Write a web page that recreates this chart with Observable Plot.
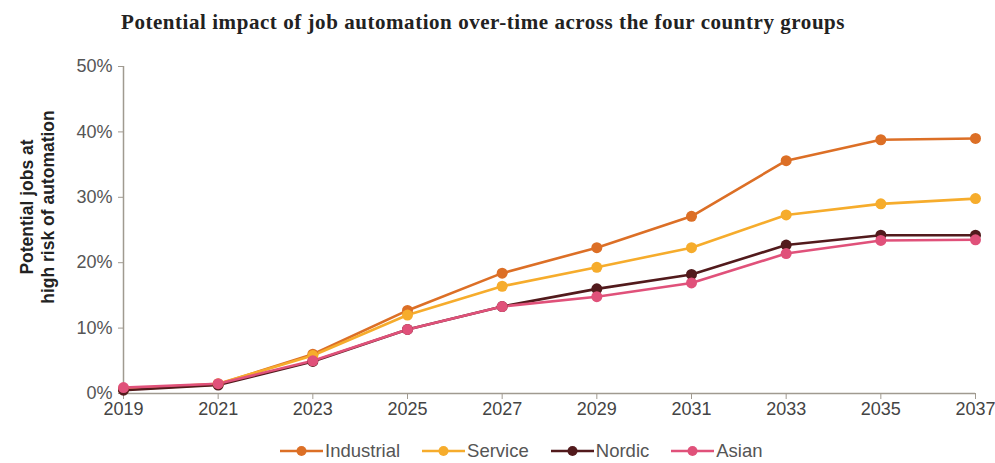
<!DOCTYPE html>
<html>
<head>
<meta charset="utf-8">
<script src="https://cdn.jsdelivr.net/npm/d3@7"></script>
<script src="https://cdn.jsdelivr.net/npm/@observablehq/plot@0.6"></script>
<style>
  body { margin: 0; background: #fff; width: 995px; height: 463px; overflow: hidden; }
  #title { height: 46px; padding-left: 121px; font-family: "Liberation Serif", serif; font-weight: bold; font-size: 21px; letter-spacing: 0.55px; line-height: 44px; color: #222; white-space: nowrap; }
  #legend { display: flex; justify-content: flex-start; padding-left: 280px; padding-top: 12px; font-family: "Liberation Sans", Arial, sans-serif; font-size: 18.5px; line-height: 22px; color: #555; height: 22px; align-items: center; }
  .item { display: flex; align-items: center; margin-right: 22px; }
  .item svg { margin-right: 2px; }
</style>
</head>
<body>
<div id="title">Potential impact of job automation over-time across the four country groups</div>
<div id="chart"></div>
<div id="legend"></div>
<script>
const years = [2019, 2021, 2023, 2025, 2027, 2029, 2031, 2033, 2035, 2037];
const seriesNames = ["Industrial", "Service", "Nordic", "Asian"];
const industrial = [0.6, 1.4, 6.0, 12.7, 18.4, 22.3, 27.1, 35.6, 38.8, 39.0];
const service    = [0.7, 1.5, 5.8, 12.0, 16.4, 19.3, 22.3, 27.3, 29.0, 29.8];
const nordic     = [0.5, 1.3, 4.9, 9.8, 13.3, 16.0, 18.2, 22.7, 24.2, 24.2];
const asian      = [0.9, 1.5, 5.0, 9.8, 13.3, 14.8, 16.9, 21.4, 23.4, 23.5];
const colors = ["#dc6f26", "#f6ac2c", "#521a1c", "#e0517a"];
const yTicks = [0, 10, 20, 30, 40, 50];
const yLabel = "Potential jobs at\nhigh risk of automation";

const valuesBySeries = [industrial, service, nordic, asian];
const data = [];
seriesNames.forEach((s, i) => years.forEach((yr, j) => data.push({series: s, year: yr, value: valuesBySeries[i][j]})));

const chart = Plot.plot({
  width: 995,
  height: 382,
  marginTop: 20,
  marginLeft: 123,
  marginRight: 20,
  marginBottom: 35,
  style: {fontFamily: "Liberation Sans, Arial, sans-serif", fontSize: "18px", color: "#595959", background: "#fff", overflow: "visible"},
  x: {domain: [2019, 2037], label: null},
  y: {domain: [0, 50], label: null},
  color: {domain: seriesNames, range: colors},
  marks: [
    Plot.ruleY([0], {stroke: "#a09a90", strokeWidth: 1.5}),
    Plot.ruleX([2019], {stroke: "#a09a90", strokeWidth: 1.5}),
    Plot.axisX({ticks: years, tickFormat: d => String(d), stroke: "#a09a90", tickSize: 6, tickPadding: 3, label: null, fill: "#444"}),
    Plot.axisY({ticks: yTicks, tickFormat: d => d + "%", stroke: "#a09a90", tickSize: 5, tickPadding: 6, label: null, fill: "#555"}),
    Plot.line(data, {x: "year", y: "value", z: "series", stroke: "series", strokeWidth: 2.6}),
    Plot.dot(data, {x: "year", y: "value", fill: "series", r: 5.5}),
    Plot.text([yLabel], {frameAnchor: "left", textAnchor: "middle", text: d => d, rotate: -90, dx: -87, dy: -23, fontWeight: "bold", fontSize: 17.5, fill: "#222", lineHeight: 1.2})
  ]
});
document.getElementById("chart").appendChild(chart);

const legend = document.getElementById("legend");
seriesNames.forEach((s, i) => {
  const item = document.createElement("div");
  item.className = "item";
  item.innerHTML = `<svg width="43" height="14"><line x1="0" y1="7" x2="43" y2="7" stroke="${colors[i]}" stroke-width="2.6"/><circle cx="21.5" cy="7" r="5" fill="${colors[i]}"/></svg><span>${s}</span>`;
  legend.appendChild(item);
});
</script>
</body>
</html>
